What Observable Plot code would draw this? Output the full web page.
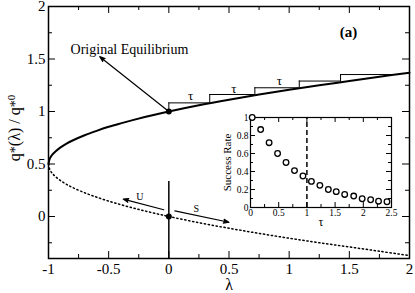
<!DOCTYPE html>
<html><head><meta charset="utf-8">
<script src="https://cdn.jsdelivr.net/npm/d3@7"></script>
<script src="https://cdn.jsdelivr.net/npm/@observablehq/plot@0.6"></script>
<style>
body{margin:0;background:#fff;}
#wrap{position:relative;width:415px;height:293px;font-family:"Liberation Serif","Times New Roman","DejaVu Serif",serif;}
#wrap svg{position:absolute;}
#wrap svg text{font-family:"Liberation Serif","Times New Roman","DejaVu Serif",serif;}
</style></head><body><div id="wrap"></div>
<script>
// ---- main chart data ----
const curveLambda = [-1, -0.99, -0.97, -0.94, -0.9, -0.85, -0.8, -0.7, -0.6, -0.5, -0.4, -0.3, -0.2, -0.1, 0, 0.25, 0.5, 0.75, 1, 1.25, 1.5, 1.75, 2];
const upperQ = [0.5, 0.55, 0.587, 0.622, 0.658, 0.694, 0.724, 0.774, 0.816, 0.854, 0.887, 0.918, 0.947, 0.974, 1.0, 1.059, 1.112, 1.161, 1.207, 1.25, 1.29, 1.331, 1.37];
const lowerQ = [0.5, 0.45, 0.413, 0.378, 0.342, 0.306, 0.276, 0.226, 0.184, 0.146, 0.113, 0.082, 0.053, 0.026, 0, -0.059, -0.112, -0.161, -0.207, -0.25, -0.29, -0.331, -0.372];

const stepStart = [0, 0.34, 0.715, 1.084, 1.427];
const stepEnd   = [0.34, 0.715, 1.084, 1.427, 1.9];
const stepBase  = [1.0, 1.079, 1.155, 1.222, 1.279];
const stepLevel = [1.082, 1.162, 1.226, 1.29, 1.352];

const tauLabelLambda = [0.18, 0.54, 0.918];
const tauLabelQ = [1.146, 1.22, 1.293];

const equilibriumLambda = [0, 0];
const equilibriumQ = [1, 0];

const arrowNames = ["original", "U", "S"];
const arrowFromLambda = [0, -0.042, 0.05];
const arrowFromQ = [1, 0.064, 0.054];
const arrowToLambda = [-0.574, -0.379, 0.499];
const arrowToQ = [1.522, 0.166, -0.055];

const manifoldLambda = [0];
const manifoldTop = [0.334];
const manifoldBottom = [-0.4];

const xMajor = [-1, -0.5, 0, 0.5, 1, 1.5, 2];
const xMinor = [-0.75, -0.25, 0.25, 0.75, 1.25, 1.75];
const yMajor = [0, 0.5, 1, 1.5, 2];
const yMinor = [-0.25, 0.25, 0.75, 1.25, 1.75];

// annotations
const notes = [
  {text: "Original Equilibrium", x: -0.327, y: 1.592, size: 14},
  {text: "U", x: -0.241, y: 0.185, size: 10},
  {text: "S", x: 0.228, y: 0.071, size: 10}
];
const panelTag = [{text: "(a)", x: 1.494, y: 1.755}];

// ---- inset data ----
const tauValues = [0.03, 0.18, 0.33, 0.48, 0.63, 0.78, 0.93, 1.08, 1.23, 1.38, 1.52, 1.67, 1.83, 1.98, 2.13, 2.27, 2.42];
const successRate = [1.0, 0.866, 0.72, 0.60, 0.50, 0.41, 0.35, 0.29, 0.246, 0.20, 0.176, 0.145, 0.127, 0.097, 0.086, 0.07, 0.064];
const tauCritical = [1];
const insetXMajor = [0, 0.5, 1, 1.5, 2, 2.5];
const insetXMinor = [0.25, 0.75, 1.25, 1.75, 2.25];
const insetYMajor = [0, 0.2, 0.4, 0.6, 0.8, 1];
const insetYMinor = [0.1, 0.3, 0.5, 0.7, 0.9];

// ---- build tables ----
const upper = curveLambda.map((l, i) => ({l, q: upperQ[i]}));
const lower = curveLambda.map((l, i) => ({l, q: lowerQ[i]}));
const steps = stepStart.map((s, i) => ({s, e: stepEnd[i], b: stepBase[i], v: stepLevel[i]}));
const tauLabels = tauLabelLambda.map((l, i) => ({l, q: tauLabelQ[i]}));
const eq = equilibriumLambda.map((l, i) => ({l, q: equilibriumQ[i]}));
const arrows = arrowNames.map((n, i) => ({n, x1: arrowFromLambda[i], y1: arrowFromQ[i], x2: arrowToLambda[i], y2: arrowToQ[i]}));
const manifold = manifoldLambda.map((l, i) => ({l, t: manifoldTop[i], b: manifoldBottom[i]}));
const insetData = tauValues.map((t, i) => ({t, r: successRate[i]}));

const W = 415, H = 293, mL = 48, mR = 6, mT = 6, mB = 35;
const iw = W - mL - mR, ih = H - mT - mB;
const font = '"Liberation Serif", "Times New Roman", "DejaVu Serif", serif';

const main = Plot.plot({
  width: W, height: H,
  marginLeft: mL, marginRight: mR, marginTop: mT, marginBottom: mB,
  x: {domain: [-1, 2]},
  y: {domain: [-0.4, 2]},
  style: {fontFamily: font, background: "transparent", overflow: "visible", color: "black"},
  marks: [
    Plot.line(upper, {x: "l", y: "q", strokeWidth: 2, curve: "catmull-rom"}),
    Plot.line(lower, {x: "l", y: "q", strokeWidth: 1.5, strokeDasharray: "1.3,2.7", curve: "catmull-rom"}),
    Plot.ruleX(steps, {x: "s", y1: "b", y2: "v", strokeWidth: 1}),
    Plot.ruleY(steps, {y: "v", x1: "s", x2: "e", strokeWidth: 1}),
    Plot.ruleX(manifold, {x: "l", y1: "t", y2: "b", strokeWidth: 1.5}),
    Plot.arrow(arrows, {x1: "x1", y1: "y1", x2: "x2", y2: "y2", stroke: "black", strokeWidth: 1.2, fill: "black", headLength: 7, headAngle: 40}),
    Plot.dot(eq, {x: "l", y: "q", r: 3, fill: "black"}),
    Plot.text(tauLabels, {x: "l", y: "q", text: () => "τ", fontSize: 13, fill: "black"}),
    Plot.text(notes, {x: "x", y: "y", text: "text", fontSize: d => d.size, fill: "black"}),
    Plot.text(panelTag, {x: "x", y: "y", text: "text", fontSize: 15, fontWeight: "bold", fill: "black"}),
    // inward ticks
    Plot.tickX(xMajor, {x: d => d, insetTop: ih - 7}),
    Plot.tickX(xMinor, {x: d => d, insetTop: ih - 4}),
    Plot.tickX(xMajor, {x: d => d, insetBottom: ih - 7}),
    Plot.tickX(xMinor, {x: d => d, insetBottom: ih - 4}),
    Plot.tickY(yMajor, {y: d => d, insetRight: iw - 7}),
    Plot.tickY(yMinor, {y: d => d, insetRight: iw - 4}),
    Plot.tickY(yMajor, {y: d => d, insetLeft: iw - 7}),
    Plot.tickY(yMinor, {y: d => d, insetLeft: iw - 4}),
    Plot.axisX({ticks: xMajor, tickSize: 0, tickPadding: 5, tickFormat: d => String(d), fontSize: 15, label: null}),
    Plot.axisY({ticks: yMajor, tickSize: 0, tickPadding: 3, tickFormat: d => String(d), fontSize: 15, label: null}),
    Plot.text(["λ"], {frameAnchor: "bottom", lineAnchor: "middle", dy: 26, fontSize: 16, fill: "black"}),
    Plot.frame({strokeWidth: 1.5})
  ]
});

// y label with super/subscripts
const yl = d3.select(main).append("text")
  .attr("transform", "translate(20,128) rotate(-90)")
  .attr("text-anchor", "middle")
  .style("font-family", font)
  .attr("font-size", 16)
  .attr("fill", "black");
yl.append("tspan").text("q");
yl.append("tspan").attr("font-size", 14).text("*");
yl.append("tspan").text("(λ) / q");
yl.append("tspan").attr("font-size", 14).text("*");
yl.append("tspan").attr("font-size", 11).attr("dy", -5).text("0");

// ---- inset ----
const IW = 195, IH = 135, imL = 45, imR = 9, imT = 7, imB = 38;
const iiw = IW - imL - imR, iih = IH - imT - imB;
const inset = Plot.plot({
  width: IW, height: IH,
  marginLeft: imL, marginRight: imR, marginTop: imT, marginBottom: imB,
  x: {domain: [0, 2.5]},
  y: {domain: [0, 1]},
  style: {fontFamily: font, background: "transparent", overflow: "visible", color: "black"},
  marks: [
    Plot.ruleX(tauCritical, {x: d => d, y1: 0, y2: 1, strokeWidth: 1.5, strokeDasharray: "5,3"}),
    Plot.tickX(insetXMajor, {x: d => d, insetTop: iih - 5}),
    Plot.tickX(insetXMinor, {x: d => d, insetTop: iih - 3}),
    Plot.tickX(insetXMajor, {x: d => d, insetBottom: iih - 5}),
    Plot.tickX(insetXMinor, {x: d => d, insetBottom: iih - 3}),
    Plot.tickY(insetYMajor, {y: d => d, insetRight: iiw - 5}),
    Plot.tickY(insetYMinor, {y: d => d, insetRight: iiw - 3}),
    Plot.tickY(insetYMajor, {y: d => d, insetLeft: iiw - 5}),
    Plot.tickY(insetYMinor, {y: d => d, insetLeft: iiw - 3}),
    Plot.frame({strokeWidth: 1.2}),
    Plot.dot(insetData, {x: "t", y: "r", r: 2.8, stroke: "black", strokeWidth: 1.3, fill: "white"}),
    Plot.axisX({ticks: insetXMajor, tickSize: 0, tickPadding: 2, tickFormat: d => String(d), fontSize: 9.5, label: null}),
    Plot.axisY({ticks: insetYMajor, tickSize: 0, tickPadding: 2, tickFormat: d => String(d), fontSize: 9.5, label: null}),
    Plot.text(["τ"], {frameAnchor: "bottom", lineAnchor: "middle", dy: 15, fontSize: 12, fill: "black"}),
    Plot.text(["Success Rate"], {frameAnchor: "left", textAnchor: "middle", lineAnchor: "middle", dx: -23, rotate: -90, fontSize: 11, fill: "black"})
  ]
});

const wrap = document.getElementById("wrap");
main.style.left = "0px"; main.style.top = "0px";
inset.style.left = "205px"; inset.style.top = "110px";
wrap.appendChild(main);
wrap.appendChild(inset);
</script>
</body></html>
